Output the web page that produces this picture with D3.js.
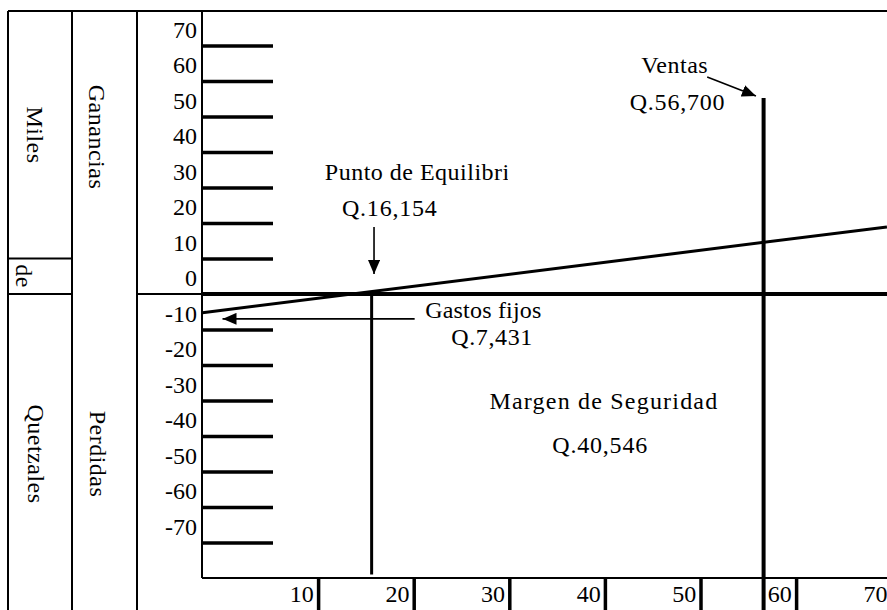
<!DOCTYPE html>
<html>
  <head>
    <meta charset="utf-8" />
    <script src="https://d3js.org/d3.v7.min.js"></script>
    <title>Punto de Equilibrio</title>
    <style>
      body {
        margin: 0px;
        background: #fff;
      }
      svg text {
        font-family: "Liberation Serif", "Times New Roman", serif;
        font-size: 24px;
        fill: #000;
      }
      .domain {
        display: none;
      }
      .tick line {
        stroke: #000;
        stroke-width: 3.5;
      }
      .frame line {
        stroke: #000;
        stroke-width: 2;
      }
    </style>
  </head>
  <body>
    <svg width="887" height="610"></svg>
    <script>
      // tick values and labels
      const yTicks = [70, 60, 50, 40, 30, 20, 10, -10, -20, -30, -40, -50, -60, -70];
      const yLabels = [70, 60, 50, 40, 30, 20, 10, 0, -10, -20, -30, -40, -50, -60, -70];
      const xTicks = [10, 20, 30, 40, 50, 60];
      const xLabels = [10, 20, 30, 40, 50, 60, 70];

      // drawn lines (miles de quetzales)
      const profitLine = [[-2.1, -5.3], [69.5, 18.9]];
      const breakEvenX = 15.6;
      const breakEvenSpan = [0, -79];
      const salesX = 56.6;
      const salesSpan = [55.2, -90];

      const svg = d3.select("svg");

      // layout of the left label columns
      const colX = [8, 72, 137, 202];
      const frameTop = 11;

      const xScale = d3.scaleLinear().domain([0, 70]).range([222.5, 891.7]);
      const yScale = d3.scaleLinear().domain([-80, 80]).range([578, 10]);

      const defs = svg.append("defs");
      defs
        .append("marker")
        .attr("id", "head")
        .attr("viewBox", "0 0 14 12")
        .attr("refX", 14)
        .attr("refY", 6)
        .attr("markerWidth", 14)
        .attr("markerHeight", 12)
        .attr("markerUnits", "userSpaceOnUse")
        .attr("orient", "auto")
        .append("path")
        .attr("d", "M0,0L14,6L0,12Z")
        .attr("fill", "#000");
      // the title box in the original cuts the last letter
      defs
        .append("clipPath")
        .attr("id", "cutTitle")
        .append("rect")
        .attr("x", 0)
        .attr("y", 0)
        .attr("width", 508)
        .attr("height", 610);

      // frame
      const frame = svg.append("g").attr("class", "frame");
      frame
        .append("line")
        .attr("x1", colX[0]).attr("x2", 887)
        .attr("y1", frameTop).attr("y2", frameTop);
      colX.forEach((x, i) => {
        frame
          .append("line")
          .attr("x1", x).attr("x2", x)
          .attr("y1", frameTop)
          .attr("y2", i === 3 ? yScale(-80) : 610);
      });
      frame
        .append("line")
        .attr("x1", colX[0]).attr("x2", colX[1])
        .attr("y1", yScale(10)).attr("y2", yScale(10));
      frame
        .append("line")
        .attr("x1", colX[0]).attr("x2", colX[1])
        .attr("y1", yScale(0)).attr("y2", yScale(0));
      frame
        .append("line")
        .attr("x1", colX[2]).attr("x2", colX[3])
        .attr("y1", yScale(0)).attr("y2", yScale(0));

      // column titles (rotated)
      const vText = (txt, x, y) =>
        svg
          .append("text")
          .attr("transform", `translate(${x},${y}) rotate(90)`)
          .attr("text-anchor", "middle")
          .attr("dominant-baseline", "central")
          .style("letter-spacing", "0.5px")
          .text(txt);
      vText("Miles", 35, 135);
      vText("de", 24, 276);
      vText("Quetzales", 36, 454);
      vText("Ganancias", 97, 137);
      vText("Perdidas", 98, 454);

      // axes
      svg
        .append("g")
        .attr("transform", `translate(${colX[3]},0)`)
        .call(d3.axisRight(yScale).tickValues(yTicks).tickSize(71).tickFormat(""));
      svg
        .append("g")
        .attr("transform", `translate(0,${yScale(-80)})`)
        .call(
          d3.axisTop(xScale)
            .tickValues(xTicks)
            .tickSize(yScale(-70) - yScale(-80))
            .tickFormat("")
        );

      svg
        .append("line")
        .attr("x1", colX[3]).attr("x2", 887)
        .attr("y1", yScale(-80)).attr("y2", yScale(-80))
        .attr("stroke", "#000")
        .attr("stroke-width", 2);
      svg
        .append("line")
        .attr("x1", colX[3]).attr("x2", 887)
        .attr("y1", yScale(0)).attr("y2", yScale(0))
        .attr("stroke", "#000")
        .attr("stroke-width", 4);

      svg
        .selectAll(".ylab")
        .data(yLabels)
        .enter()
        .append("text")
        .attr("class", "ylab")
        .attr("x", 197)
        .attr("y", (d) => yScale(d + 4.5))
        .attr("text-anchor", "end")
        .attr("dominant-baseline", "central")
        .text((d) => d);

      svg
        .selectAll(".xlab")
        .data(xLabels)
        .enter()
        .append("text")
        .attr("class", "xlab")
        .attr("x", (d) => xScale(d - 1.7))
        .attr("y", 594)
        .attr("text-anchor", "middle")
        .attr("dominant-baseline", "central")
        .text((d) => d);

      // profit line
      svg
        .append("path")
        .datum(profitLine)
        .attr("fill", "none")
        .attr("stroke", "#000")
        .attr("stroke-width", 3)
        .attr("d", d3.line().x((d) => xScale(d[0])).y((d) => yScale(d[1])));

      // break-even and sales verticals
      svg
        .append("line")
        .attr("x1", xScale(breakEvenX)).attr("x2", xScale(breakEvenX))
        .attr("y1", yScale(breakEvenSpan[0])).attr("y2", yScale(breakEvenSpan[1]))
        .attr("stroke", "#000")
        .attr("stroke-width", 3);
      svg
        .append("line")
        .attr("x1", xScale(salesX)).attr("x2", xScale(salesX))
        .attr("y1", yScale(salesSpan[0])).attr("y2", yScale(salesSpan[1]))
        .attr("stroke", "#000")
        .attr("stroke-width", 4);

      // arrows
      const arrow = (x1, y1, x2, y2) =>
        svg
          .append("line")
          .attr("x1", xScale(x1)).attr("y1", yScale(y1))
          .attr("x2", xScale(x2)).attr("y2", yScale(y2))
          .attr("stroke", "#000")
          .attr("stroke-width", 1.6)
          .attr("marker-end", "url(#head)");
      arrow(15.85, 18.9, 15.85, 5.6);
      arrow(20.1, -7.0, 0, -7.0);
      arrow(50.7, 61.1, 55.8, 55.8);

      // annotations
      const note = (txt, x, y, anchor, spacing) =>
        svg
          .append("text")
          .attr("x", xScale(x))
          .attr("y", yScale(y))
          .attr("text-anchor", anchor)
          .style("letter-spacing", spacing + "px")
          .text(txt);
      note("Ventas", 47.3, 62.3, "middle", 0.5);
      note("Q.56,700", 47.6, 51.8, "middle", 0.8);
      note("Punto de Equilibrio", 10.7, 32.1, "start", 0.5).attr("clip-path", "url(#cutTitle)");
      note("Q.16,154", 17.5, 22.0, "middle", 0.8);
      note("Gastos fijos", 21.2, -6.8, "start", 0.2);
      note("Q.7,431", 28.2, -14.4, "middle", 0.6);
      note("Margen de Seguridad", 39.9, -32.4, "middle", 1.2);
      note("Q.40,546", 39.5, -44.8, "middle", 0.8);
    </script>
  </body>
</html>
